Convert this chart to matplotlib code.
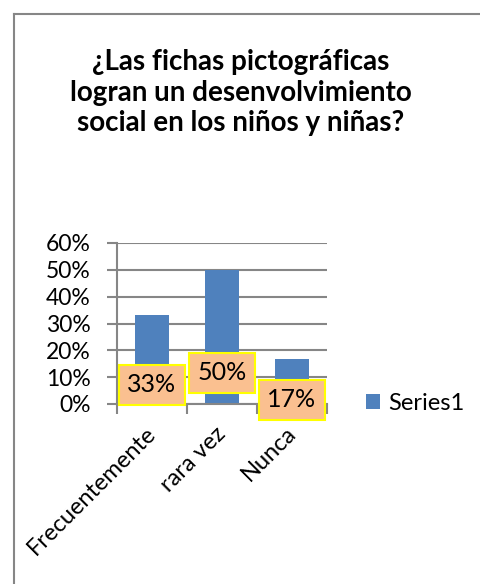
import matplotlib
matplotlib.use("Agg")
import matplotlib.pyplot as plt
import matplotlib.transforms as mtrans
from matplotlib.lines import Line2D
from matplotlib.patches import Patch

categories = ["Frecuentemente", "rara vez", "Nunca"]
values = [1/3, 1/2, 1/6]
labels = ["33%", "50%", "17%"]
ticks = [0, 0.1, 0.2, 0.3, 0.4, 0.5, 0.6]
tick_labels = ["0%", "10%", "20%", "30%", "40%", "50%", "60%"]
series_name = "Series1"
title = "¿Las fichas pictográficas\nlogran un desenvolvimiento\nsocial en los niños y niñas?"

# label box centre heights (layout, data units)
label_y = [0.071, 0.116, 0.015]

plt.rcParams['font.family'] = ['Lato', 'DejaVu Sans']

W, H = 481, 584
fig = plt.figure(figsize=(W/100, H/100), dpi=100)
grid_c = "#868686"
bar_c = "#4F81BD"

ax = fig.add_axes([117/W, 1-404/H, 210/W, 161/H])
x = list(range(len(categories)))
ax.bar(x, values, width=0.49, color=bar_c, zorder=2, label=series_name)
ax.set_xlim(-0.5, len(categories)-0.5)
ax.set_ylim(0, 0.6)
ax.set_yticks(ticks)
ax.set_yticklabels(tick_labels, fontsize=16.5)
ax.yaxis.grid(True, color=grid_c, linewidth=1.5, zorder=0)
ax.set_axisbelow(True)
for s in ["top", "right"]:
    ax.spines[s].set_visible(False)
ax.spines["left"].set_color(grid_c)
ax.spines["left"].set_linewidth(1.5)
ax.spines["bottom"].set_color(grid_c)
ax.spines["bottom"].set_linewidth(1.5)
ax.tick_params(axis="y", length=7, width=1.5, color=grid_c, pad=12)
ax.set_xticks([i - 0.5 for i in range(len(categories)+1)], minor=False)
ax.set_xticklabels([""]*(len(categories)+1))
ax.tick_params(axis="x", length=7, width=1.5, color=grid_c)
ax.set_xticks(x, minor=True)
ax.set_xticklabels(categories, minor=True, rotation=45, ha="right",
                   rotation_mode="anchor", fontsize=17)
ax.tick_params(axis="x", which="minor", length=0, pad=10)
off = mtrans.ScaledTranslation(-7/100, -5/100, fig.dpi_scale_trans)
for t in ax.get_xticklabels(minor=True):
    t.set_transform(t.get_transform() + off)

for xi, lab, ly in zip(x, labels, label_y):
    ax.text(xi, ly, lab, ha="center", va="center", fontsize=18, zorder=5,
            bbox=dict(boxstyle="square,pad=0.33", facecolor="#FAC090",
                      edgecolor="#FFFF00", linewidth=1.5), clip_on=False)

fig.text(241/W, 1-49/H, title, ha="center", va="top", fontsize=20,
         fontweight="bold", linespacing=1.22)

leg = fig.legend(handles=[Patch(facecolor=bar_c, label=series_name)],
                 loc="center left", bbox_to_anchor=(366/W, 1-403/H),
                 frameon=False, fontsize=17, handlelength=0.6,
                 handleheight=0.6, handletextpad=0.35, borderaxespad=0,
                 borderpad=0)

# chart area border (left and top visible)
fig.add_artist(Line2D([13.5/W, 13.5/W], [0, 1-13.5/H], transform=fig.transFigure,
                      color=grid_c, linewidth=1.5))
fig.add_artist(Line2D([13.5/W, 1], [1-13.5/H, 1-13.5/H], transform=fig.transFigure,
                      color=grid_c, linewidth=1.5))

fig.savefig("out.png", dpi=100)
